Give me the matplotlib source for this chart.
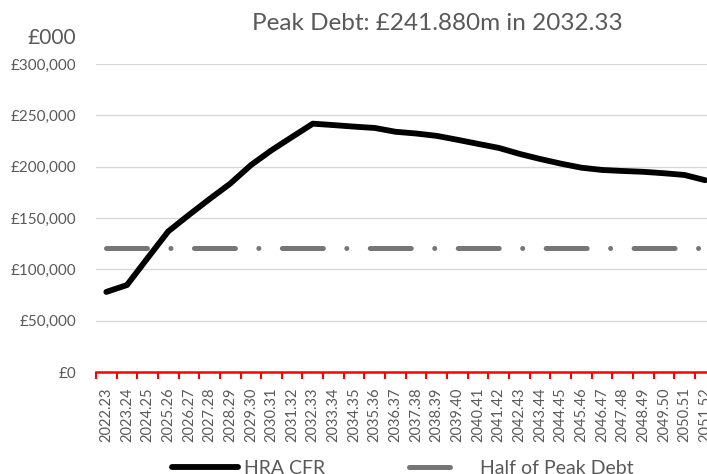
import numpy as np
import matplotlib.pyplot as plt
from matplotlib.lines import Line2D
from matplotlib.ticker import FuncFormatter, FixedLocator

plt.rcParams['font.family'] = ['Lato', 'DejaVu Sans']
plt.rcParams['lines.scale_dashes'] = False

# data (£000)
years = ['2022.23', '2023.24', '2024.25', '2025.26', '2026.27', '2027.28', '2028.29',
         '2029.30', '2030.31', '2031.32', '2032.33', '2033.34', '2034.35', '2035.36',
         '2036.37', '2037.38', '2038.39', '2039.40', '2040.41', '2041.42', '2042.43',
         '2043.44', '2044.45', '2045.46', '2046.47', '2047.48', '2048.49', '2049.50',
         '2050.51', '2051.52']
hra_cfr = [78000, 84700, 111000, 137000, 153000, 168500, 183500, 201500, 216000, 229000,
           241880, 240500, 239000, 237700, 234000, 232300, 230000, 226200, 222200, 218300,
           212500, 207500, 203000, 199000, 196800, 195800, 195000, 193600, 191900, 186800]
peak = 241880
half_peak = [peak / 2] * len(years)

grey = '#595959'
half_col = '#767676'

fig = plt.figure(figsize=(7.07, 4.74), dpi=100)
ax = fig.add_axes([96 / 707, 102 / 474, 619.5 / 707, 308 / 474])

x = np.arange(len(years))
ax.plot(x, hra_cfr, color='black', lw=4.2, solid_joinstyle='round',
        solid_capstyle='round', zorder=3)
ax.plot(x, half_peak, color=half_col, lw=3.6, dash_capstyle='round',
        dashes=(29.5, 16.9, 0.01, 16.9), zorder=2)

ax.set_xlim(-0.5, len(years) - 0.5)
ax.set_ylim(0, 300000)
ax.set_yticks(np.arange(0, 300001, 50000))
ax.yaxis.set_major_formatter(FuncFormatter(lambda v, p: '£{:,.0f}'.format(v)))
ax.grid(axis='y', color='#d9d9d9', lw=1)
ax.set_axisbelow(True)

ax.set_xticks(x)
ax.set_xticklabels(years, rotation=90)
ax.xaxis.set_minor_locator(FixedLocator(np.arange(-0.5, len(years), 1)))
ax.tick_params(axis='x', which='major', length=0, pad=11, labelsize=10.5, labelcolor=grey)
ax.tick_params(axis='x', which='minor', length=5, width=1.5, color='red', direction='out')
ax.tick_params(axis='y', length=0, pad=14, labelsize=11, labelcolor=grey)

for s in ['top', 'right', 'left']:
    ax.spines[s].set_visible(False)
ax.spines['bottom'].set_color('red')
ax.spines['bottom'].set_linewidth(1.8)

fig.text(437 / 707, 1 - 24 / 474, 'Peak Debt: £241.880m in 2032.33', ha='center',
         va='center', fontsize=17.5, color=grey)
fig.text(76 / 707, 1 - 38 / 474, '£000', ha='right', va='center', fontsize=15, color=grey)

# legend samples: the dashed series shows only its first dash, as in Excel
handles = [Line2D([], [], color='black', lw=4.2, solid_capstyle='round'),
           Line2D([], [], color=half_col, lw=3.6, dash_capstyle='round',
                  dashes=(29.5, 200))]
fig.legend(handles, ['HRA CFR', 'Half of Peak Debt'], loc='center',
           bbox_to_anchor=(403 / 707, 6 / 474), ncol=2, frameon=False,
           fontsize=14, handlelength=3.4, handletextpad=0.3, columnspacing=4.3,
           labelcolor=grey)

fig.savefig('out.png', dpi=100)
